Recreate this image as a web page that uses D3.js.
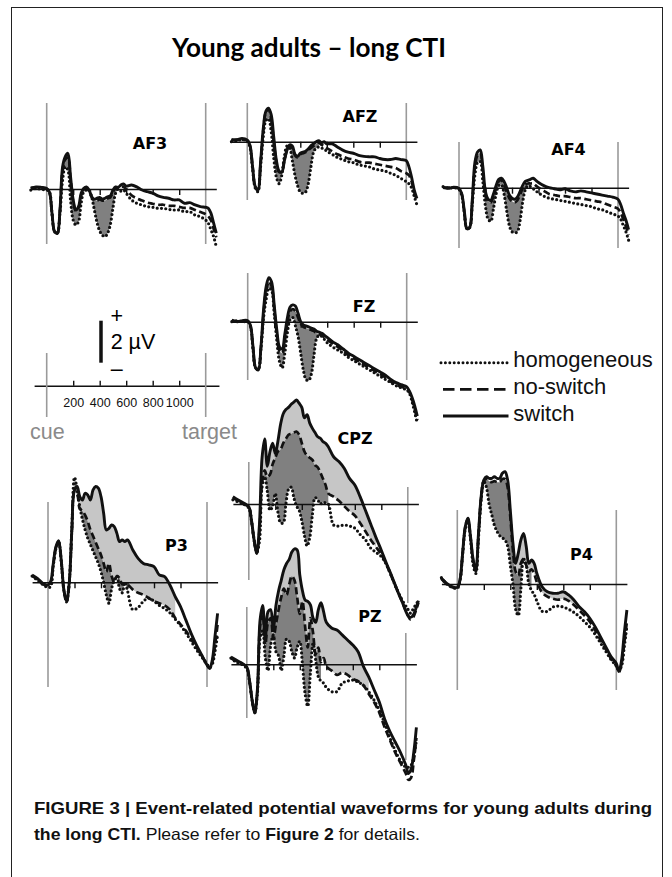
<!DOCTYPE html>
<html>
<head>
<meta charset="utf-8">
<script src="https://cdn.jsdelivr.net/npm/d3@7"></script>
<style>
  body { margin: 0; background: #fff; }
  svg { display: block; }
</style>
</head>
<body>
<div id="chart"></div>
<script>
// time points (ms after cue)
const times = [-120,-80,-40, 0,20,40,60,80,100,120, 140,160,180,200,220,240,260,280,300,320,
  340,360,380,400,420,440,460,480,500,520, 540,560,580,600,
  640,680,720,760,800,840,880,920,960,1000,1040,1080,1120,1160,1200, 1220,1240,1260,1280];

// amplitudes in µV
const af3Hom = [-0.05,0.03,-0.02,-0.05, -0.13,-1.16,-2.03,-2.1,-1.16,0.43, 1.06,0.9,-0.52,-1.48,-1.71,-1.56,-0.68,-0.13,-0.05,-0.05, -0.4,-1.0,-1.6,-2.0,-2.2,-2.27,-2.1,-1.7,-0.9,-0.2, 0.0,-0.1,-0.05,-0.2, -0.52,-0.68,-0.76,-0.84,-0.87,-0.92,-0.92,-0.97,-1.0,-1.0,-1.08,-1.08,-1.24,-1.32,-1.48, -1.63,-1.95,-2.27,-2.75];
const af3NoSw = [0.05,0.08,0.05,0.0, -0.15,-1.16,-2.05,-2.12,-1.05,0.9, 1.4,1.5,0.45,-0.6,-1.05,-0.9,-0.3,0.0,0.05,-0.1, -0.4,-0.55,-0.55,-0.5,-0.55,-0.55,-0.45,-0.4,-0.15,0.05, 0.05,0.1,0.1,0.0, -0.3,-0.45,-0.55,-0.65,-0.7,-0.75,-0.75,-0.8,-0.8,-0.85,-0.9,-0.9,-1.0,-1.1,-1.2, -1.3,-1.5,-1.9,-2.3];
const af3Sw = [0.03,0.1,0.08,0.03, -0.13,-1.16,-2.03,-2.1,-1.0,1.06, 1.54,1.7,0.59,-0.52,-1.0,-0.84,-0.2,0.03,0.1,-0.05, -0.37,-0.49,-0.44,-0.4,-0.49,-0.44,-0.37,-0.33,-0.05,0.1, 0.08,0.19,0.24,0.14, 0.19,0.1,-0.05,-0.13,-0.2,-0.33,-0.4,-0.44,-0.52,-0.52,-0.68,-0.65,-0.76,-0.84,-0.87, -0.92,-1.16,-1.63,-2.1];

const afzHom = [0.0,0.05,0.1,0.05, -0.25,-1.3,-2.2,-2.38,-1.2,0.2, 1.0,1.1,0.5,-0.8,-1.7,-2.0,-1.6,-0.7,-0.2,-0.3, -0.9,-1.6,-2.1,-2.4,-2.46,-2.4,-2.0,-1.2,-0.5,-0.3, -0.25,-0.3,-0.35,-0.45, -0.6,-0.75,-0.85,-0.95,-1.0,-1.1,-1.15,-1.2,-1.3,-1.35,-1.4,-1.5,-1.6,-1.75,-1.9, -2.0,-2.2,-2.6,-3.0];
const afzNoSw = [0.05,0.1,0.1,0.05, -0.2,-1.2,-2.15,-2.3,-1.05,0.5, 1.4,1.55,1.1,0.0,-1.0,-1.45,-1.4,-0.9,-0.4,-0.2, -0.3,-0.65,-0.75,-0.6,-0.55,-0.5,-0.4,-0.3,-0.2,-0.1, -0.05,-0.15,-0.2,-0.3, -0.45,-0.6,-0.7,-0.8,-0.85,-0.95,-1.0,-1.0,-1.05,-1.1,-1.15,-1.2,-1.25,-1.4,-1.5, -1.6,-1.9,-2.4,-2.8];
const afzSw = [0.11,0.08,0.16,0.08, -0.16,-1.19,-2.14,-2.3,-1.0,0.6, 1.45,1.6,1.3,0.2,-0.9,-1.4,-1.45,-0.9,-0.4,-0.15, -0.2,-0.6,-0.7,-0.55,-0.5,-0.45,-0.35,-0.2,-0.1,0.0, 0.05,-0.05,0.0,-0.1, -0.1,-0.25,-0.4,-0.5,-0.55,-0.65,-0.7,-0.72,-0.72,-0.8,-0.85,-0.85,-0.8,-0.85,-0.9, -1.2,-1.7,-2.3,-2.7];

const af4Hom = [0.05,-0.02,0.0,-0.08, -0.35,-1.2,-1.95,-1.9,-0.8,0.6, 1.2,1.25,0.3,-0.9,-1.5,-1.6,-1.0,-0.3,0.1,0.15, -0.3,-1.1,-1.8,-2.1,-2.15,-2.1,-1.6,-0.7,-0.1,0.1, 0.05,-0.05,-0.15,-0.25, -0.4,-0.5,-0.55,-0.6,-0.65,-0.7,-0.75,-0.8,-0.85,-0.9,-1.0,-1.05,-1.15,-1.25,-1.35, -1.5,-1.8,-2.1,-2.5];
const af4NoSw = [0.02,0.0,0.02,-0.05, -0.3,-1.15,-1.95,-1.9,-0.7,1.0, 1.55,1.65,0.8,-0.35,-0.65,-0.7,-0.4,0.0,0.3,0.35, 0.15,-0.2,-0.5,-0.65,-0.7,-0.6,-0.35,-0.05,0.15,0.2, 0.2,0.2,0.1,0.0, -0.15,-0.3,-0.35,-0.4,-0.4,-0.45,-0.5,-0.5,-0.55,-0.6,-0.65,-0.7,-0.8,-0.9,-1.0, -1.2,-1.5,-1.85,-2.25];
const af4Sw = [0.0,-0.03,0.02,-0.03, -0.27,-1.1,-1.95,-1.9,-0.6,1.2, 1.7,1.8,1.0,-0.2,-0.55,-0.6,-0.3,0.1,0.4,0.45, 0.3,0.0,-0.35,-0.5,-0.55,-0.45,-0.2,0.1,0.3,0.35, 0.4,0.45,0.35,0.25, 0.1,0.0,-0.05,-0.1,-0.05,-0.15,-0.2,-0.15,-0.2,-0.25,-0.3,-0.35,-0.4,-0.45,-0.55, -0.8,-1.2,-1.55,-2.0];

const fzHom = [0.0,0.05,0.0,0.0, -0.2,-1.3,-2.2,-2.25,-1.3,0.2, 1.1,1.6,1.5,0.4,-0.9,-1.9,-2.2,-1.5,-0.5,0.1, 0.2,-0.2,-0.7,-1.5,-2.3,-2.75,-2.8,-2.5,-1.6,-0.8, -0.65,-0.7,-0.85,-1.0, -1.2,-1.35,-1.5,-1.7,-1.85,-2.0,-2.15,-2.3,-2.45,-2.6,-2.75,-2.9,-3.05,-3.15,-3.25, -3.4,-3.8,-4.3,-4.85];
const fzNoSw = [0.05,0.02,0.03,0.03, -0.2,-1.25,-2.2,-2.28,-1.25,0.4, 1.5,1.9,1.7,0.6,-0.6,-1.4,-1.5,-0.8,0.0,0.5, 0.6,0.5,0.2,-0.1,-0.25,-0.3,-0.35,-0.4,-0.45,-0.55, -0.6,-0.65,-0.75,-0.85, -1.05,-1.2,-1.4,-1.6,-1.75,-1.9,-2.05,-2.2,-2.35,-2.5,-2.65,-2.85,-3.0,-3.1,-3.2, -3.35,-3.7,-4.15,-4.7];
const fzSw = [0.08,0.0,0.05,0.05, -0.16,-1.19,-2.2,-2.3,-1.2,0.6, 1.7,2.1,1.9,0.8,-0.4,-1.2,-1.3,-0.6,0.2,0.7, 0.8,0.75,0.4,0.0,-0.15,-0.2,-0.25,-0.3,-0.35,-0.45, -0.5,-0.55,-0.65,-0.75, -0.95,-1.1,-1.3,-1.5,-1.65,-1.8,-1.95,-2.1,-2.25,-2.4,-2.55,-2.75,-2.9,-3.0,-3.1, -3.3,-3.6,-4.0,-4.5];

const cpzHom = [0.2,0.1,0.0,-0.2, -0.8,-1.7,-2.3,-1.8,0.8,1.3, 0.6,-0.3,-0.1,0.5,-0.4,-0.9,-0.9,0.0,0.7,0.8, 0.3,-0.1,-0.3,-0.8,-1.5,-2.0,-1.6,-0.5,0.3,0.2, 0.0,0.1,0.05,0.0, -1.0,-1.05,-1.0,-1.05,-1.15,-1.45,-1.7,-2.1,-2.3,-2.5,-2.9,-3.5,-4.1,-4.6,-5.0, -5.2,-5.0,-4.8,-4.6];
const cpzNoSw = [0.3,0.15,0.0,-0.15, -0.8,-1.75,-2.35,-1.3,1.0,1.6, 1.3,1.4,1.9,2.2,2.5,2.6,2.9,3.1,3.3,3.35, 3.4,3.45,3.3,2.9,2.5,2.3,2.2,2.1,1.85,1.75, 1.5,1.2,0.9,0.5, 0.35,0.15,-0.1,-0.35,-0.55,-0.9,-1.3,-1.7,-2.05,-2.4,-2.9,-3.5,-4.1,-4.7,-5.3, -5.5,-5.4,-5.1,-4.7];
const cpzSw = [0.35,0.19,0.05,-0.13, -0.76,-1.71,-2.35,-1.0,2.2,3.1, 1.8,2.5,2.9,2.4,3.0,3.8,4.3,4.5,4.6,4.75, 4.85,4.95,4.8,4.6,4.1,4.25,3.85,3.6,3.4,3.2, 3.13,2.97,2.89,2.73, 2.25,2.02,1.7,1.22,0.9,0.35,-0.3,-0.95,-1.6,-2.2,-2.85,-3.45,-4.1,-4.7,-5.3, -5.4,-5.3,-5.0,-4.6];

const pzHom = [0.3,0.1,0.0,-0.2, -0.8,-1.7,-2.3,-1.4,1.2,1.6, 0.3,-0.3,0.9,1.4,0.6,0.4,-0.3,0.4,1.2,1.1, 0.6,0.3,0.8,1.1,0.0,-1.4,-2.0,-0.4,1.0,0.2, -0.6,-0.8,-0.9,-1.1, -1.3,-1.3,-0.9,-0.8,-0.75,-0.85,-1.0,-1.3,-1.7,-2.2,-2.8,-3.5,-4.1,-4.6,-4.9, -4.9,-4.8,-4.4,-3.6];
const pzNoSw = [0.3,0.15,0.05,-0.15, -0.8,-1.7,-2.3,-1.3,1.8,2.4, 0.9,2.0,2.2,1.2,1.9,2.6,3.2,3.6,3.3,3.8, 4.2,4.0,3.2,2.4,3.0,1.8,0.8,2.2,1.5,0.5, 0.8,0.1,0.3,-0.1, -0.3,-0.5,-0.4,-0.5,-0.7,-0.8,-1.0,-1.4,-1.8,-2.3,-3.0,-3.6,-4.2,-4.7,-5.2, -5.5,-5.4,-4.6,-3.5];
const pzSw = [0.35,0.2,0.06,-0.13, -0.75,-1.7,-2.32,-1.2,2.1,2.8, 1.16,2.5,2.6,1.63,2.8,3.5,4.0,4.5,4.8,5.0, 5.35,5.5,5.45,4.25,3.5,3.06,3.0,2.83,2.2,2.0, 2.6,2.93,2.5,2.0, 1.73,1.63,1.4,1.16,0.92,0.6,-0.1,-0.6,-1.2,-1.8,-2.6,-3.2,-3.7,-4.2,-4.8, -5.2,-5.0,-4.2,-3.0];

const p3Hom = [0.3,0.1,-0.1,-0.25, -0.2,0.8,1.6,1.9,1.0,-0.4, -0.9,0.0,2.6,5.0,4.4,3.6,3.0,2.5,2.1,1.8, 1.5,1.2,0.9,0.5,0.0,-0.6,-1.0,-0.3,0.1,0.3, -0.3,-0.5,0.0,-0.4, -1.3,-1.2,-0.9,-0.75,-0.9,-1.1,-1.25,-1.45,-1.75,-2.05,-2.4,-2.8,-3.2,-3.55,-3.9, -4.05,-3.9,-3.3,-2.5];
const p3NoSw = [0.3,0.15,-0.08,-0.15, 0.0,0.85,1.65,1.95,1.0,-0.4, -0.95,-0.1,2.4,4.3,4.2,3.5,3.4,3.2,2.9,2.5, 2.2,1.9,1.6,1.3,0.9,0.5,0.9,0.3,0.0,0.3, 0.2,-0.1,-0.05,-0.1, -0.35,-0.5,-0.6,-0.75,-0.9,-1.0,-1.1,-1.3,-1.7,-2.0,-2.3,-2.7,-3.1,-3.5,-3.9, -4.1,-3.8,-3.0,-2.0];
const p3Sw = [0.35,0.19,-0.05,-0.13, 0.03,0.9,1.7,1.98,1.06,-0.37, -0.92,-0.05,2.49,4.4,4.56,4.08,3.92,4.24,4.16,3.92, 4.4,4.56,4.48,4.08,3.29,2.49,2.57,2.73,2.65,2.33, 1.94,2.02,1.94,2.02, 1.54,1.14,0.9,0.83,0.75,0.35,0.27,-0.13,-0.68,-1.16,-1.79,-2.43,-2.98,-3.46,-3.94, -4.1,-3.7,-2.59,-1.48];

const p4Hom = [0.3,0.0,-0.15,-0.2, 0.15,1.4,2.6,3.0,2.1,0.9, 0.5,2.2,4.0,4.9,4.6,3.8,3.3,2.8,2.5,2.3, 2.2,2.1,1.8,0.9,0.0,-1.2,-1.5,-0.2,1.2,0.9, 0.0,-0.3,-0.5,-0.8, -1.3,-1.3,-1.1,-1.05,-1.1,-1.2,-1.35,-1.55,-1.8,-2.05,-2.4,-2.8,-3.2,-3.6,-3.9, -4.1,-3.9,-3.0,-2.0];
const p4NoSw = [0.25,0.0,-0.15,-0.18, 0.17,1.4,2.7,3.1,2.2,1.1, 0.6,2.35,4.1,4.9,5.0,4.9,4.85,4.9,4.85,4.85, 5.0,5.0,4.6,3.2,1.6,0.6,0.4,1.0,1.2,0.9, 0.6,0.7,0.5,0.1, -0.4,-0.6,-0.7,-0.75,-0.7,-0.8,-1.0,-1.25,-1.5,-1.8,-2.2,-2.65,-3.1,-3.55,-3.9, -4.2,-3.8,-2.8,-1.8];
const p4Sw = [0.27,0.03,-0.13,-0.16, 0.19,1.46,2.73,3.13,2.25,1.14, 0.67,2.41,4.16,4.95,5.11,5.03,5.03,5.11,5.03,5.03, 5.27,5.35,4.95,3.52,1.94,0.98,1.46,2.1,2.41,1.8, 0.98,1.14,0.98,0.51, -0.13,-0.37,-0.44,-0.44,-0.37,-0.52,-0.76,-1.08,-1.32,-1.63,-2.03,-2.51,-2.98,-3.46,-3.78, -4.17,-3.62,-2.35,-1.24];

const electrodes = ["AF3", "AFZ", "AF4", "FZ", "CPZ", "PZ", "P3", "P4"];
const homogeneous = [af3Hom, afzHom, af4Hom, fzHom, cpzHom, pzHom, p3Hom, p4Hom];
const noSwitch = [af3NoSw, afzNoSw, af4NoSw, fzNoSw, cpzNoSw, pzNoSw, p3NoSw, p4NoSw];
const switchTrials = [af3Sw, afzSw, af4Sw, fzSw, cpzSw, pzSw, p3Sw, p4Sw];

// time windows of the shaded differences (ms)
const darkSpans = [[100,540],[100,540],[100,540],[100,540],[100,620],[100,560],[200,600],[200,560]];
const lightSpans = [null, null, null, null, [100,960],[100,940],[200,960],[380,920]];

const tickValues = [200, 400, 600, 800, 1000];
const legendLabels = ["homogeneous", "no-switch", "switch"];

const width = 672, height = 877;
const pxPerMs = 0.1325, pxPerUv = 21;

// where each electrode sits on the page
const layout = [
  {cx: 46.7, by: 189, cue: [103, 244], tgt: [103, 244], lx: 150, ly: 149},
  {cx: 247.3, by: 141.7, cue: [103, 200], tgt: [103, 200], lx: 360, ly: 121.5},
  {cx: 459, by: 187.7, cue: [142, 248], tgt: [142, 248], lx: 568.5, ly: 155},
  {cx: 247.7, by: 321.7, cue: [273, 380], tgt: [273, 380], lx: 364, ly: 312},
  {cx: 248.8, by: 504, cue: [462, 580], tgt: [487, 603], lx: 355, ly: 444},
  {cx: 246.8, by: 664.3, cue: [607, 718], tgt: [633, 760], lx: 370, ly: 621.5},
  {cx: 48, by: 582.3, cue: [502, 687], tgt: [502, 687], lx: 176.5, ly: 551},
  {cx: 457.3, by: 584, cue: [510, 690], tgt: [510, 690], lx: 581.5, ly: 560}
];

const svg = d3.select("#chart").append("svg")
  .attr("width", width)
  .attr("height", height);

svg.append("rect")
  .attr("x", 11.5).attr("y", 7.5)
  .attr("width", 651).attr("height", 900)
  .attr("fill", "none").attr("stroke", "#222").attr("stroke-width", 1);

svg.append("text")
  .attr("x", 309).attr("y", 57)
  .attr("text-anchor", "middle")
  .attr("font-family", "Lato, 'Open Sans', sans-serif")
  .attr("font-weight", 700)
  .attr("font-size", 27)
  .attr("textLength", 274)
  .attr("lengthAdjust", "spacingAndGlyphs")
  .text("Young adults – long CTI");

const curve = d3.curveCatmullRom.alpha(0.5);
const grey = "#9a9a9a";

electrodes.forEach((name, i) => {
  const L = layout[i];
  const x = d3.scaleLinear().domain([-120, 1280])
    .range([L.cx - 120 * pxPerMs, L.cx + 1280 * pxPerMs]);
  const y = d3.scaleLinear().domain([-1, 1])
    .range([L.by + pxPerUv, L.by - pxPerUv]);
  const rows = times.map((t, j) => ({
    t: t, hom: homogeneous[i][j], nos: noSwitch[i][j], sw: switchTrials[i][j]
  }));
  const g = svg.append("g").attr("class", "panel");

  // cue and target markers
  g.append("line")
    .attr("x1", x(0)).attr("x2", x(0))
    .attr("y1", L.cue[0]).attr("y2", L.cue[1])
    .attr("stroke", grey).attr("stroke-width", 1.6);
  g.append("line")
    .attr("x1", x(1200)).attr("x2", x(1200))
    .attr("y1", L.tgt[0]).attr("y2", L.tgt[1])
    .attr("stroke", grey).attr("stroke-width", 1.6);

  const band = (lo, hi) => d3.area()
    .x(d => x(d.t)).y0(d => y(d[lo])).y1(d => y(d[hi]))
    .curve(curve);

  if (lightSpans[i]) {
    const s = lightSpans[i];
    g.append("path")
      .datum(rows.filter(d => d.t >= s[0] && d.t <= s[1]))
      .attr("d", band("nos", "sw"))
      .attr("fill", "#c6c6c6");
  }
  const s = darkSpans[i];
  g.append("path")
    .datum(rows.filter(d => d.t >= s[0] && d.t <= s[1]))
    .attr("d", band("hom", "nos"))
    .attr("fill", "#808080");

  // zero line with ticks
  const axis = g.append("g")
    .attr("transform", `translate(0,${L.by})`)
    .call(d3.axisBottom(x).tickValues(tickValues).tickSizeInner(6).tickSizeOuter(0).tickFormat(""));
  axis.select(".domain").attr("stroke", "#111").attr("stroke-width", 1.6);
  axis.selectAll(".tick line").attr("stroke", "#111").attr("stroke-width", 1.4);

  const line = key => d3.line().x(d => x(d.t)).y(d => y(d[key]))
    .defined(d => d[key] != null).curve(curve);

  g.append("path").datum(rows).attr("d", line("hom"))
    .attr("fill", "none").attr("stroke", "#111").attr("stroke-width", 3.2)
    .attr("stroke-linecap", "round").attr("stroke-dasharray", "0 4.3");
  g.append("path").datum(rows).attr("d", line("nos"))
    .attr("fill", "none").attr("stroke", "#111").attr("stroke-width", 2.7)
    .attr("stroke-dasharray", "7 3.5");
  g.append("path").datum(rows).attr("d", line("sw"))
    .attr("fill", "none").attr("stroke", "#111").attr("stroke-width", 2.9)
    .attr("stroke-linejoin", "round");

  g.append("text")
    .attr("x", L.lx).attr("y", L.ly)
    .attr("text-anchor", "middle")
    .attr("font-family", "'DejaVu Sans', sans-serif")
    .attr("font-weight", 700)
    .attr("font-size", 16)
    .text(name);
});

// time / amplitude key
const key = svg.append("g").attr("font-family", "'Liberation Sans', Arial, sans-serif");
const xs = d3.scaleLinear().domain([-95, 1300])
  .range([46.7 - 95 * pxPerMs, 46.7 + 1300 * pxPerMs]);
const keyAxis = key.append("g")
  .attr("transform", "translate(0,385.7)")
  .call(d3.axisBottom(xs).tickValues(tickValues).tickSizeInner(-5).tickSizeOuter(0)
    .tickPadding(12).tickFormat(d3.format("d")));
keyAxis.select(".domain").attr("stroke", "#111").attr("stroke-width", 1.5);
keyAxis.selectAll(".tick line").attr("stroke", "#111").attr("stroke-width", 1.4);
keyAxis.selectAll(".tick text")
  .attr("font-family", "'Liberation Sans', Arial, sans-serif")
  .attr("font-size", 12.5).attr("fill", "#111");

[0, 1200].forEach(t => {
  key.append("line")
    .attr("x1", xs(t)).attr("x2", xs(t))
    .attr("y1", 353).attr("y2", 417)
    .attr("stroke", grey).attr("stroke-width", 1.6);
});
key.append("text").attr("x", 30).attr("y", 439)
  .attr("font-size", 21.5).attr("fill", "#8a8a8a").text("cue");
key.append("text").attr("x", 237).attr("y", 439).attr("text-anchor", "end")
  .attr("font-size", 21.5).attr("fill", "#8a8a8a").text("target");

const yk = d3.scaleLinear().domain([0, 2]).range([362.7, 362.7 - 2 * pxPerUv]);
key.append("line")
  .attr("x1", 101).attr("x2", 101)
  .attr("y1", yk(0)).attr("y2", yk(2))
  .attr("stroke", "#111").attr("stroke-width", 3.5);
key.append("text").attr("x", 116.7).attr("y", 322.5).attr("text-anchor", "middle")
  .attr("font-size", 21.5).text("+");
key.append("text").attr("x", 110.7).attr("y", 349.3)
  .attr("font-size", 21.5).text("2 µV");
key.append("text").attr("x", 116.7).attr("y", 376).attr("text-anchor", "middle")
  .attr("font-size", 21.5).text("–");

// legend
const legendStyles = [
  {dash: "0 4.4", w: 3, cap: "round", x0: 441},
  {dash: "11.5 5.5", w: 2.8, cap: "butt", x0: 443},
  {dash: null, w: 3, cap: "butt", x0: 443}
];
const legendY = [362.7, 389.3, 416];
const legend = svg.append("g").attr("font-family", "'Liberation Sans', Arial, sans-serif");
legendLabels.forEach((lab, i) => {
  const st = legendStyles[i];
  legend.append("line")
    .attr("x1", st.x0).attr("x2", 508.5)
    .attr("y1", legendY[i]).attr("y2", legendY[i])
    .attr("stroke", "#111").attr("stroke-width", st.w)
    .attr("stroke-linecap", st.cap)
    .attr("stroke-dasharray", st.dash);
  legend.append("text")
    .attr("x", 513.3).attr("y", legendY[i] + 4.5)
    .attr("font-size", 22).attr("fill", "#111")
    .text(lab);
});

// caption
const cap = svg.append("g")
  .attr("font-family", "'Liberation Sans Narrow', 'Liberation Sans', Arial, sans-serif")
  .attr("font-size", 16.5).attr("fill", "#111");
cap.append("text")
  .attr("x", 34).attr("y", 814)
  .attr("font-weight", 700)
  .attr("textLength", 618).attr("lengthAdjust", "spacingAndGlyphs")
  .text("FIGURE 3 | Event-related potential waveforms for young adults during");
const line2 = cap.append("text")
  .attr("x", 34).attr("y", 840)
  .attr("textLength", 386).attr("lengthAdjust", "spacingAndGlyphs");
line2.append("tspan").attr("font-weight", 700).text("the long CTI.");
line2.append("tspan").text(" Please refer to ");
line2.append("tspan").attr("font-weight", 700).text("Figure 2");
line2.append("tspan").text(" for details.");
</script>
</body>
</html>
